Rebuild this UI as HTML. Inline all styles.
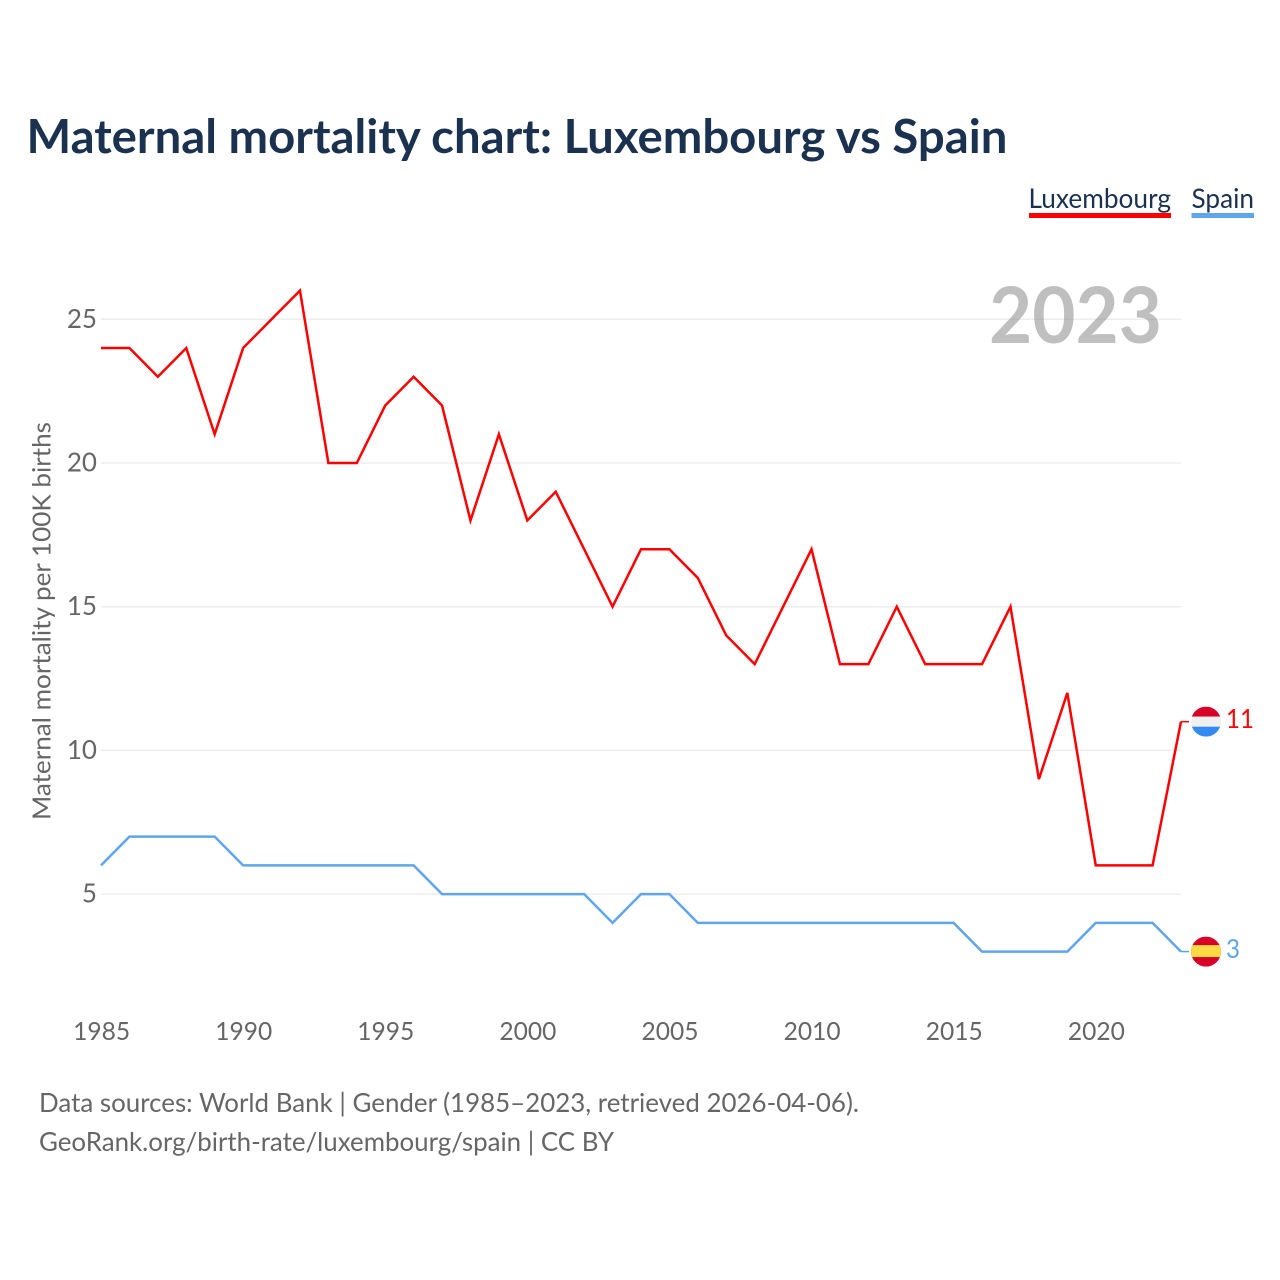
<!DOCTYPE html>
<html lang="en">
<head>
<meta charset="utf-8">
<title>Maternal mortality chart: Luxembourg vs Spain</title>
<style>
  html, body { margin: 0; padding: 0; background: #fff; }
  svg { display: block; font-family: "Lato", "Carlito", "Liberation Sans", sans-serif; }
</style>
</head>
<body>
<svg id="chart" xmlns="http://www.w3.org/2000/svg" width="1280" height="1280" viewBox="0 0 1280 1280">
  <rect width="1280" height="1280" fill="#ffffff"/>
  <text x="26.500" y="153" font-size="47" font-weight="700" fill="#1a3150" textLength="981" lengthAdjust="spacingAndGlyphs">Maternal mortality chart: Luxembourg vs Spain</text>

  <g>
    <g>
      <text x="1028.500" y="208" font-size="27" fill="#1a3150" textLength="142.500" lengthAdjust="spacingAndGlyphs">Luxembourg</text>
      <rect x="1029" y="213" width="142" height="5" fill="#ff0000"/>
    </g>
    <g>
      <text x="1191.500" y="208" font-size="27" fill="#1a3150" textLength="62.500" lengthAdjust="spacingAndGlyphs">Spain</text>
      <rect x="1191.500" y="213" width="62.500" height="5" fill="#5fa5ee"/>
    </g>
  </g>

  <g id="grid"></g>
  <text x="989" y="343" font-size="77.500" font-weight="700" fill="#8a8a8a" fill-opacity="0.55" textLength="173" lengthAdjust="spacingAndGlyphs">2023</text>
  <g id="yticks"></g>
  <g id="xticks"></g>
  <text transform="translate(50.500 820) rotate(-90)" x="0" y="0" font-size="25.500" fill="#666666" textLength="398" lengthAdjust="spacingAndGlyphs">Maternal mortality per 100K births</text>

  <g id="series"></g>

  <defs>
    <clipPath id="flag-clip-lux"><circle id="clip-lux" r="15"/></clipPath>
    <clipPath id="flag-clip-esp"><circle id="clip-esp" r="15"/></clipPath>
  </defs>
  <g id="end-markers"></g>

  <text x="39" y="1112" font-size="26" fill="#666666" textLength="820" lengthAdjust="spacingAndGlyphs">Data sources: World Bank | Gender (1985–2023, retrieved 2026-04-06).</text>
  <text x="39" y="1151" font-size="26" fill="#666666" textLength="575" lengthAdjust="spacingAndGlyphs">GeoRank.org/birth-rate/luxembourg/spain | CC BY</text>
</svg>

<script>
const years = [1985,1986,1987,1988,1989,1990,1991,1992,1993,1994,1995,1996,1997,1998,1999,2000,2001,2002,2003,2004,2005,2006,2007,2008,2009,2010,2011,2012,2013,2014,2015,2016,2017,2018,2019,2020,2021,2022,2023];
const luxembourgValues = [24,24,23,24,21,24,25,26,20,20,22,23,22,18,21,18,19,17,15,17,17,16,14,13,15,17,13,13,15,13,13,13,15,9,12,6,6,6,11];
const spainValues = [6,7,7,7,7,6,6,6,6,6,6,6,5,5,5,5,5,5,4,5,5,4,4,4,4,4,4,4,4,4,4,3,3,3,3,4,4,4,3];
const yTickValues = [5,10,15,20,25];
const xTickValues = [1985,1990,1995,2000,2005,2010,2015,2020];

const SVG_NS = 'http://www.w3.org/2000/svg';
const plotLeft = 101, plotRight = 1181;
const xScale = function (year) {
  return plotLeft + (year - 1985) * (plotRight - plotLeft) / (2023 - 1985);
};
const yScale = function (value) {
  return 894.1 - (value - 5) * 28.74;
};
function make(tag, attrs, parent) {
  const el = document.createElementNS(SVG_NS, tag);
  for (const k in attrs) el.setAttribute(k, attrs[k]);
  parent.appendChild(el);
  return el;
}

const grid = document.getElementById('grid');
const yticks = document.getElementById('yticks');
yTickValues.forEach(function (v) {
  const line = make('line', { x1: plotLeft, x2: plotRight, y1: yScale(v), y2: yScale(v), stroke: '#eeeeee', 'stroke-width': 1.5 }, grid);
  
  
  const label = make('text', { x: 97, y: yScale(v) + 8.5, 'text-anchor': 'end', 'font-size': 26, fill: '#666666' }, yticks);
  
  
  label.textContent = v;
});

const xticks = document.getElementById('xticks');
xTickValues.forEach(function (y) {
  const label = make('text', { x: xScale(y) + 0.6, y: 1040, 'text-anchor': 'middle', 'font-size': 25.5, fill: '#666666', textLength: 57, lengthAdjust: 'spacingAndGlyphs' }, xticks);
  
  
  label.textContent = y;
});

const seriesGroup = document.getElementById('series');
function drawSeries(values, color, name) {
  const d = values.map(function (v, i) {
    return (i ? 'L' : 'M') + xScale(years[i]).toFixed(2) + ' ' + yScale(v).toFixed(2);
  }).join(' ');
  const path = make('path', { d: d, fill: 'none', stroke: color, 'stroke-width': 2.5, 'stroke-linejoin': 'miter' }, seriesGroup);
  
  
}
drawSeries(spainValues, '#5fa5ee', 'line-spain');
drawSeries(luxembourgValues, '#ff0000', 'line-luxembourg');

const markers = document.getElementById('end-markers');
const flagX = 1206;
function drawEnd(value, color, clipId, circleId, bands, name, labelWidth) {
  const y = yScale(value);
  const connector = make('line', { x1: plotRight, x2: 1189, y1: y, y2: y, stroke: color, 'stroke-width': 1.5 }, markers);
  
  
  const clipCircle = document.getElementById(circleId);
  clipCircle.setAttribute('cx', flagX);
  clipCircle.setAttribute('cy', y);
  const flag = make('g', { 'clip-path': 'url(#' + clipId + ')' }, markers);
  
  
  bands.forEach(function (b) {
    const r = make('rect', { x: flagX - 15, y: y + b[0], width: 30, height: b[1], fill: b[2] }, flag);
    
    
  });
  const label = make('text', { x: 1226, y: y + 6.5, 'font-size': 26, fill: color, textLength: labelWidth, lengthAdjust: 'spacingAndGlyphs' }, markers);
  
  
  label.textContent = value;
}
drawEnd(luxembourgValues[luxembourgValues.length - 1], '#ff0000', 'flag-clip-lux', 'clip-lux',
  [[-15, 10, '#d80027'], [-5, 10, '#f0f0f0'], [5, 10, '#338af3']], 'luxembourg', 28);
drawEnd(spainValues[spainValues.length - 1], '#5fa5ee', 'flag-clip-esp', 'clip-esp',
  [[-15, 30, '#d80027'], [-6.500, 12, '#ffda44']], 'spain', 14);
</script>
</body>
</html>
